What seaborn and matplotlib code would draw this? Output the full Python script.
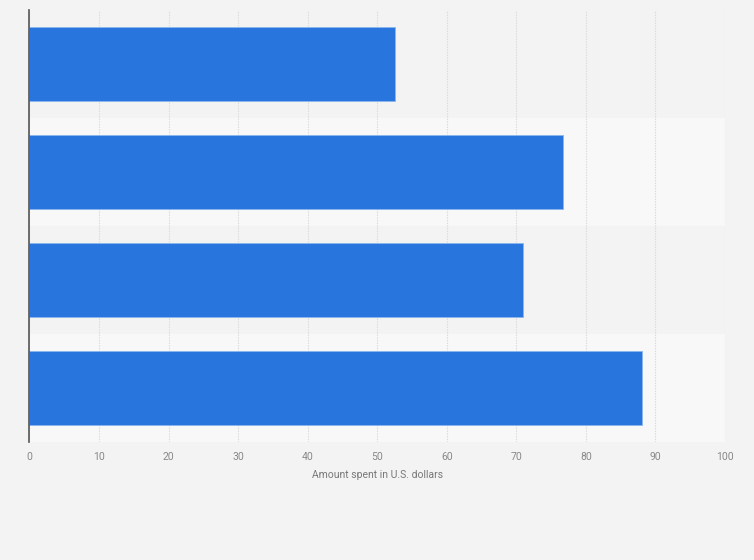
import matplotlib
matplotlib.use("Agg")
import matplotlib.pyplot as plt
import seaborn as sns
import pandas as pd

# values (category labels are not shown in it)
categories = ["Category 1", "Category 2", "Category 3", "Category 4"]
amounts = [52.6, 76.7, 70.9, 88.1]
x_ticks = [0, 10, 20, 30, 40, 50, 60, 70, 80, 90, 100]

df = pd.DataFrame({"category": categories, "amount": amounts})

sns.set_theme(style="white")
plt.rcParams["font.family"] = ["Roboto", "DejaVu Sans"]

fig = plt.figure(figsize=(7.54, 5.6), dpi=100)
fig.patch.set_facecolor("#f3f3f3")
ax = fig.add_axes([0.0391, 0.2113, 0.9224, 0.7707])
ax.set_facecolor("#f3f3f3")

# alternating row bands
for i in range(len(categories)):
    ax.axhspan(i - 0.5, i + 0.5, color="#f3f3f3" if i % 2 == 0 else "#f8f8f8", zorder=0)

sns.barplot(data=df, x="amount", y="category", orient="h", color="#2876dd",
            saturation=1, width=0.685, edgecolor="#8ab6ef", linewidth=0.6,
            ax=ax, zorder=3)

ax.set_xlim(0, 100)
ax.set_ylim(len(categories) - 0.5, -0.5)
ax.set_xticks(x_ticks)
ax.set_xticklabels([str(t) for t in x_ticks])
ax.tick_params(axis="x", length=0, pad=7.5, labelsize=7.5, labelcolor="#888888")
ax.set_yticks([])
ax.set_ylabel("")
ax.set_xlabel("Amount spent in U.S. dollars", fontsize=7.5, color="#777777", labelpad=6)

ax.grid(axis="x", color="#dadada", linestyle=(0, (1.2, 1.2)), linewidth=0.8, zorder=1)
ax.set_axisbelow(True)
for side in ["top", "right", "bottom"]:
    ax.spines[side].set_visible(False)
ax.spines["left"].set_color("#555555")
ax.spines["left"].set_linewidth(1.2)
ax.spines["left"].set_zorder(5)

fig.savefig("out.png", dpi=100, facecolor=fig.get_facecolor())
